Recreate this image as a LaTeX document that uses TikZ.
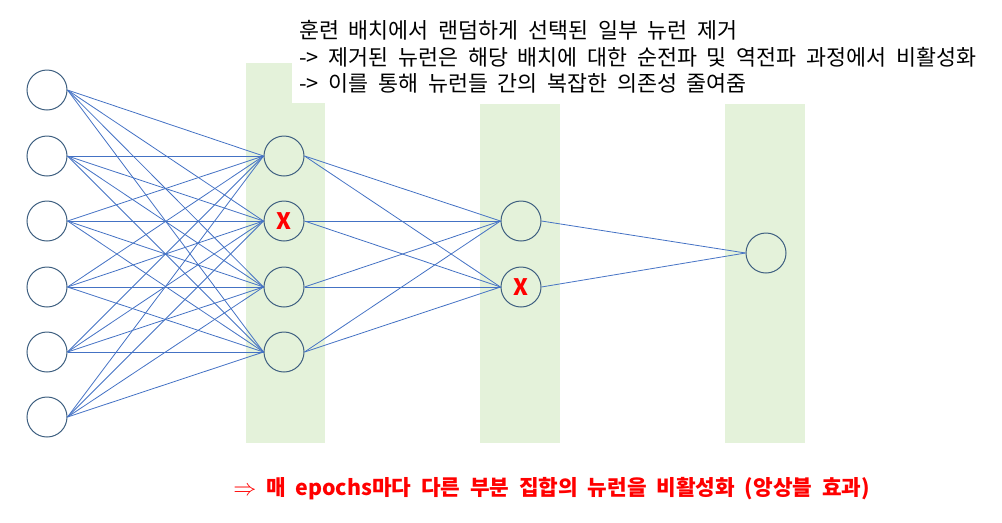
\documentclass[tikz,border=0pt]{standalone}
\usepackage{fontspec}
\usepackage{tikz}
\newfontfamily\krfont[WordSpace=2]{Noto Sans CJK KR}
\definecolor{linkblue}{RGB}{68,114,196}
\definecolor{ringblue}{RGB}{62,95,128}
\definecolor{bandgreen}{RGB}{228,242,218}
\definecolor{dropred}{RGB}{255,0,0}

\begin{document}
\begin{tikzpicture}[x=0.75pt,y=-0.75pt,
    neuron/.style={circle,draw=ringblue,line width=0.75pt,minimum size=30pt,inner sep=0pt},
    dropped/.style={neuron,text=dropred,font=\krfont\bfseries\fontsize{17}{17}\selectfont},
    link/.style={linkblue,line width=0.6pt},
    notetext/.style={anchor=base west,inner sep=0pt,font=\krfont\fontsize{16.3}{19}\selectfont}]
  \useasboundingbox (0,0) rectangle (1002,522);
  % the three green layer bands
  \fill[bandgreen] (246,63) rectangle (325,443);
  \fill[bandgreen] (480,104) rectangle (560,443);
  \fill[bandgreen] (725,104) rectangle (805,443);
  \fill[white] (292,0) rectangle (1002,103);
  % the note at the top
  \node[notetext] (note1) at (299,38) {훈련 배치에서 랜덤하게 선택된 일부 뉴런 제거};
  \node[notetext] (note2) at (299,65) {-> 제거된 뉴런은 해당 배치에 대한 순전파 및 역전파 과정에서 비활성화};
  \node[notetext] (note3) at (299,91) {-> 이를 통해 뉴런들 간의 복잡한 의존성 줄여줌};
  % input layer
  \node[neuron] (in1) at (47,90) {};
  \node[neuron] (in2) at (47,156) {};
  \node[neuron] (in3) at (47,221) {};
  \node[neuron] (in4) at (47,287) {};
  \node[neuron] (in5) at (47,352) {};
  \node[neuron] (in6) at (47,417) {};
  % first hidden layer, h2 dropped
  \node[neuron] (h1) at (284,156) {};
  \node[dropped] (h2) at (284,221) {X};
  \node[neuron] (h3) at (284,287) {};
  \node[neuron] (h4) at (284,352) {};
  % second hidden layer, g2 dropped
  \node[neuron] (g1) at (521,221) {};
  \node[dropped] (g2) at (521,287) {X};
  % output
  \node[neuron] (out) at (766,253) {};
  % connections
  \foreach \i in {1,...,6}
    \foreach \j in {1,...,4}
      \draw[link] (in\i.east) -- (h\j.west);
  \foreach \j in {1,...,4}
    \foreach \k in {1,2}
      \draw[link] (h\j.east) -- (g\k.west);
  \draw[link] (g1.east) -- (out.west);
  \draw[link] (g2.east) -- (out.west);
  % the conclusion
  \node[anchor=base west,inner sep=0pt,text=dropred,font=\krfont\bfseries\fontsize{16}{19}\selectfont] (summary) at (233,495)
    {\(\Rightarrow\) 매 epochs마다 다른 부분 집합의 뉴런을 비활성화 (앙상블 효과)};
\end{tikzpicture}
\end{document}
